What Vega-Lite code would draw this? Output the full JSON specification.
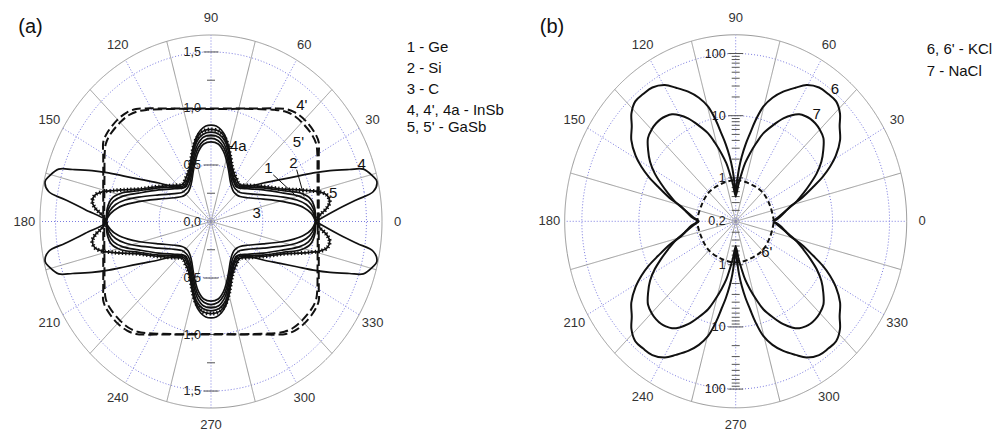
{
"$schema":"https://vega.github.io/schema/vega-lite/v6.json",
"padding":0,
"spacing":0,
"background":"white",
"config":{"view":{"stroke":null},"font":"Liberation Sans","concat":{"spacing":0}},
"datasets":{
"ringsA":[
{"r":0.5,"s":"dot","a":[0,10,20,30,40,50,60,70,80,90,100,110,120,130,140,150,160,170,180,190,200,210,220,230,240,250,260,270,280,290,300,310,320,330,340,350]},
{"r":1.0,"s":"dot","a":[0,10,20,30,40,50,60,70,80,90,100,110,120,130,140,150,160,170,180,190,200,210,220,230,240,250,260,270,280,290,300,310,320,330,340,350]},
{"r":1.5,"s":"dot","a":[0,10,20,30,40,50,60,70,80,90,100,110,120,130,140,150,160,170,180,190,200,210,220,230,240,250,260,270,280,290,300,310,320,330,340,350]},
{"r":1.65,"s":"out","a":[0,10,20,30,40,50,60,70,80,90,100,110,120,130,140,150,160,170,180,190,200,210,220,230,240,250,260,270,280,290,300,310,320,330,340,350]}],
"ringsB":[
{"v":1,"s":"dot","a":[0,10,20,30,40,50,60,70,80,90,100,110,120,130,140,150,160,170,180,190,200,210,220,230,240,250,260,270,280,290,300,310,320,330,340,350]},
{"v":10,"s":"dot","a":[0,10,20,30,40,50,60,70,80,90,100,110,120,130,140,150,160,170,180,190,200,210,220,230,240,250,260,270,280,290,300,310,320,330,340,350]},
{"v":100,"s":"dot","a":[0,10,20,30,40,50,60,70,80,90,100,110,120,130,140,150,160,170,180,190,200,210,220,230,240,250,260,270,280,290,300,310,320,330,340,350]},
{"v":200,"s":"out","a":[0,10,20,30,40,50,60,70,80,90,100,110,120,130,140,150,160,170,180,190,200,210,220,230,240,250,260,270,280,290,300,310,320,330,340,350]}],
"spokesA":[{"a":0,"d":"s","r":1.65},{"a":15,"d":"d","r":1.65},{"a":30,"d":"s","r":1.65},{"a":45,"d":"d","r":1.65},{"a":60,"d":"s","r":1.65},{"a":75,"d":"d","r":1.65},{"a":90,"d":"s","r":1.65},{"a":105,"d":"d","r":1.65},{"a":120,"d":"s","r":1.65},{"a":135,"d":"d","r":1.65},{"a":150,"d":"s","r":1.65},{"a":165,"d":"d","r":1.65},{"a":180,"d":"s","r":1.65},{"a":195,"d":"d","r":1.65},{"a":210,"d":"s","r":1.65},{"a":225,"d":"d","r":1.65},{"a":240,"d":"s","r":1.65},{"a":255,"d":"d","r":1.65},{"a":270,"d":"s","r":1.65},{"a":285,"d":"d","r":1.65},{"a":300,"d":"s","r":1.65},{"a":315,"d":"d","r":1.65},{"a":330,"d":"s","r":1.65},{"a":345,"d":"d","r":1.65}],
"spokesB":[{"a":0,"d":"s","v":200},{"a":15,"d":"d","v":200},{"a":30,"d":"s","v":200},{"a":45,"d":"d","v":200},{"a":60,"d":"s","v":200},{"a":75,"d":"d","v":200},{"a":90,"d":"s","v":200},{"a":105,"d":"d","v":200},{"a":120,"d":"s","v":200},{"a":135,"d":"d","v":200},{"a":150,"d":"s","v":200},{"a":165,"d":"d","v":200},{"a":180,"d":"s","v":200},{"a":195,"d":"d","v":200},{"a":210,"d":"s","v":200},{"a":225,"d":"d","v":200},{"a":240,"d":"s","v":200},{"a":255,"d":"d","v":200},{"a":270,"d":"s","v":200},{"a":285,"d":"d","v":200},{"a":300,"d":"s","v":200},{"a":315,"d":"d","v":200},{"a":330,"d":"s","v":200},{"a":345,"d":"d","v":200}],
"angA":[{"t":"0","a":0,"r":1.8},{"t":"30","a":30,"r":1.8},{"t":"60","a":60,"r":1.8},{"t":"90","a":90,"r":1.8},{"t":"120","a":120,"r":1.8},{"t":"150","a":150,"r":1.8},{"t":"180","a":180,"r":1.8},{"t":"210","a":210,"r":1.8},{"t":"240","a":240,"r":1.8},{"t":"270","a":270,"r":1.8},{"t":"300","a":300,"r":1.8},{"t":"330","a":330,"r":1.8}],
"angB":[{"t":"0","a":0,"v":372},{"t":"30","a":30,"v":372},{"t":"60","a":60,"v":372},{"t":"90","a":90,"v":372},{"t":"120","a":120,"v":372},{"t":"150","a":150,"v":372},{"t":"180","a":180,"v":372},{"t":"210","a":210,"v":372},{"t":"240","a":240,"v":372},{"t":"270","a":270,"v":372},{"t":"300","a":300,"v":372},{"t":"330","a":330,"v":372}],
"ticksA":[{"r":0.25,"a":90,"k":"m"},{"r":0.5,"a":90,"k":"M"},{"r":0.75,"a":90,"k":"m"},{"r":1.0,"a":90,"k":"M"},{"r":1.25,"a":90,"k":"m"},{"r":1.5,"a":90,"k":"M"},{"r":0.25,"a":270,"k":"m"},{"r":0.5,"a":270,"k":"M"},{"r":0.75,"a":270,"k":"m"},{"r":1.0,"a":270,"k":"M"},{"r":1.25,"a":270,"k":"m"},{"r":1.5,"a":270,"k":"M"}],
"ticksB":[{"v":0.3,"a":90,"k":"m"},{"v":0.4,"a":90,"k":"m"},{"v":0.5,"a":90,"k":"m"},{"v":0.6,"a":90,"k":"m"},{"v":0.7,"a":90,"k":"m"},{"v":0.8,"a":90,"k":"m"},{"v":0.9,"a":90,"k":"m"},{"v":1,"a":90,"k":"M"},{"v":2,"a":90,"k":"m"},{"v":3,"a":90,"k":"m"},{"v":4,"a":90,"k":"m"},{"v":5,"a":90,"k":"m"},{"v":6,"a":90,"k":"m"},{"v":7,"a":90,"k":"m"},{"v":8,"a":90,"k":"m"},{"v":9,"a":90,"k":"m"},{"v":10,"a":90,"k":"M"},{"v":20,"a":90,"k":"m"},{"v":30,"a":90,"k":"m"},{"v":40,"a":90,"k":"m"},{"v":50,"a":90,"k":"m"},{"v":60,"a":90,"k":"m"},{"v":70,"a":90,"k":"m"},{"v":80,"a":90,"k":"m"},{"v":90,"a":90,"k":"m"},{"v":100,"a":90,"k":"M"},
{"v":0.3,"a":270,"k":"m"},{"v":0.4,"a":270,"k":"m"},{"v":0.5,"a":270,"k":"m"},{"v":0.6,"a":270,"k":"m"},{"v":0.7,"a":270,"k":"m"},{"v":0.8,"a":270,"k":"m"},{"v":0.9,"a":270,"k":"m"},{"v":1,"a":270,"k":"M"},{"v":2,"a":270,"k":"m"},{"v":3,"a":270,"k":"m"},{"v":4,"a":270,"k":"m"},{"v":5,"a":270,"k":"m"},{"v":6,"a":270,"k":"m"},{"v":7,"a":270,"k":"m"},{"v":8,"a":270,"k":"m"},{"v":9,"a":270,"k":"m"},{"v":10,"a":270,"k":"M"},{"v":20,"a":270,"k":"m"},{"v":30,"a":270,"k":"m"},{"v":40,"a":270,"k":"m"},{"v":50,"a":270,"k":"m"},{"v":60,"a":270,"k":"m"},{"v":70,"a":270,"k":"m"},{"v":80,"a":270,"k":"m"},{"v":90,"a":270,"k":"m"},{"v":100,"a":270,"k":"M"}],
"radA":[{"t":"0,0","r":0,"a":90},{"t":"0,5","r":0.5,"a":90},{"t":"1,0","r":1.0,"a":90},{"t":"1,5","r":1.5,"a":90},{"t":"0,5","r":0.5,"a":270},{"t":"1,0","r":1.0,"a":270},{"t":"1,5","r":1.5,"a":270}],
"radB":[{"t":"0,2","v":0.2,"a":90},{"t":"1","v":1,"a":90},{"t":"10","v":10,"a":90},{"t":"100","v":100,"a":90},{"t":"1","v":1,"a":270},{"t":"10","v":10,"a":270},{"t":"100","v":100,"a":270}],
"curvesA":[
{"c":"4","a":0,"r":1.01},{"c":"4","a":4.9,"r":1.217},{"c":"4","a":7.8,"r":1.419},{"c":"4","a":9.6,"r":1.589},{"c":"4","a":12.5,"r":1.639},{"c":"4","a":14.5,"r":1.61},{"c":"4","a":17.5,"r":1.541},{"c":"4","a":19,"r":1.413},{"c":"4","a":21.4,"r":1.234},{"c":"4","a":23.5,"r":1.078},{"c":"4","a":25.8,"r":0.919},{"c":"4","a":29,"r":0.763},{"c":"4","a":34,"r":0.609},{"c":"4","a":40,"r":0.482},{"c":"4","a":46.6,"r":0.407},{"c":"4","a":52.3,"r":0.392},{"c":"4","a":57.3,"r":0.416},{"c":"4","a":62.9,"r":0.461},{"c":"4","a":67.4,"r":0.52},{"c":"4","a":71.3,"r":0.591},{"c":"4","a":75.6,"r":0.682},{"c":"4","a":79.4,"r":0.763},{"c":"4","a":83,"r":0.816},{"c":"4","a":86.6,"r":0.846},{"c":"4","a":90,"r":0.853},
{"c":"4","a":93.4,"r":0.846},{"c":"4","a":97,"r":0.816},{"c":"4","a":100.6,"r":0.763},{"c":"4","a":104.4,"r":0.682},{"c":"4","a":108.7,"r":0.591},{"c":"4","a":112.6,"r":0.52},{"c":"4","a":117.1,"r":0.461},{"c":"4","a":122.7,"r":0.416},{"c":"4","a":127.7,"r":0.392},{"c":"4","a":133.4,"r":0.407},{"c":"4","a":140,"r":0.482},{"c":"4","a":146,"r":0.609},{"c":"4","a":151,"r":0.763},{"c":"4","a":154.2,"r":0.919},{"c":"4","a":156.5,"r":1.078},{"c":"4","a":158.6,"r":1.234},{"c":"4","a":161,"r":1.413},{"c":"4","a":162.5,"r":1.541},{"c":"4","a":165.5,"r":1.61},{"c":"4","a":167.5,"r":1.639},{"c":"4","a":170.4,"r":1.589},{"c":"4","a":172.2,"r":1.419},{"c":"4","a":175.1,"r":1.217},{"c":"4","a":180,"r":1.01},
{"c":"4","a":184.9,"r":1.217},{"c":"4","a":187.8,"r":1.419},{"c":"4","a":189.6,"r":1.589},{"c":"4","a":192.5,"r":1.639},{"c":"4","a":194.5,"r":1.61},{"c":"4","a":197.5,"r":1.541},{"c":"4","a":199,"r":1.413},{"c":"4","a":201.4,"r":1.234},{"c":"4","a":203.5,"r":1.078},{"c":"4","a":205.8,"r":0.919},{"c":"4","a":209,"r":0.763},{"c":"4","a":214,"r":0.609},{"c":"4","a":220,"r":0.482},{"c":"4","a":226.6,"r":0.407},{"c":"4","a":232.3,"r":0.392},{"c":"4","a":237.3,"r":0.416},{"c":"4","a":242.9,"r":0.461},{"c":"4","a":247.4,"r":0.52},{"c":"4","a":251.3,"r":0.591},{"c":"4","a":255.6,"r":0.682},{"c":"4","a":259.4,"r":0.763},{"c":"4","a":263,"r":0.816},{"c":"4","a":266.6,"r":0.846},{"c":"4","a":270,"r":0.853},
{"c":"4","a":273.4,"r":0.846},{"c":"4","a":277,"r":0.816},{"c":"4","a":280.6,"r":0.763},{"c":"4","a":284.4,"r":0.682},{"c":"4","a":288.7,"r":0.591},{"c":"4","a":292.6,"r":0.52},{"c":"4","a":297.1,"r":0.461},{"c":"4","a":302.7,"r":0.416},{"c":"4","a":307.7,"r":0.392},{"c":"4","a":313.4,"r":0.407},{"c":"4","a":320,"r":0.482},{"c":"4","a":326,"r":0.609},{"c":"4","a":331,"r":0.763},{"c":"4","a":334.2,"r":0.919},{"c":"4","a":336.5,"r":1.078},{"c":"4","a":338.6,"r":1.234},{"c":"4","a":341,"r":1.413},{"c":"4","a":342.5,"r":1.541},{"c":"4","a":345.5,"r":1.61},{"c":"4","a":347.5,"r":1.639},{"c":"4","a":350.4,"r":1.589},{"c":"4","a":352.2,"r":1.419},{"c":"4","a":355.1,"r":1.217},{"c":"4","a":360,"r":1.01},

{"c":"5","a":0,"r":1.01},{"c":"5","a":3.2,"r":1.054},{"c":"5","a":6,"r":1.123},{"c":"5","a":8.8,"r":1.159},{"c":"5","a":11.9,"r":1.142},{"c":"5","a":14,"r":1.082},{"c":"5","a":15.9,"r":0.994},{"c":"5","a":18.2,"r":0.895},{"c":"5","a":22.3,"r":0.754},{"c":"5","a":31.5,"r":0.593},{"c":"5","a":42.4,"r":0.474},{"c":"5","a":49.3,"r":0.429},{"c":"5","a":53,"r":0.432},{"c":"5","a":57.2,"r":0.452},{"c":"5","a":61.8,"r":0.476},{"c":"5","a":66.9,"r":0.522},{"c":"5","a":71.3,"r":0.591},{"c":"5","a":75.3,"r":0.672},{"c":"5","a":79.1,"r":0.743},{"c":"5","a":83.9,"r":0.8},{"c":"5","a":90,"r":0.815},
{"c":"5","a":96.1,"r":0.8},{"c":"5","a":100.9,"r":0.743},{"c":"5","a":104.7,"r":0.672},{"c":"5","a":108.7,"r":0.591},{"c":"5","a":113.1,"r":0.522},{"c":"5","a":118.2,"r":0.476},{"c":"5","a":122.8,"r":0.452},{"c":"5","a":127,"r":0.432},{"c":"5","a":130.7,"r":0.429},{"c":"5","a":137.6,"r":0.474},{"c":"5","a":148.5,"r":0.593},{"c":"5","a":157.7,"r":0.754},{"c":"5","a":161.8,"r":0.895},{"c":"5","a":164.1,"r":0.994},{"c":"5","a":166,"r":1.082},{"c":"5","a":168.1,"r":1.142},{"c":"5","a":171.2,"r":1.159},{"c":"5","a":174,"r":1.123},{"c":"5","a":176.8,"r":1.054},{"c":"5","a":180,"r":1.01},
{"c":"5","a":183.2,"r":1.054},{"c":"5","a":186,"r":1.123},{"c":"5","a":188.8,"r":1.159},{"c":"5","a":191.9,"r":1.142},{"c":"5","a":194,"r":1.082},{"c":"5","a":195.9,"r":0.994},{"c":"5","a":198.2,"r":0.895},{"c":"5","a":202.3,"r":0.754},{"c":"5","a":211.5,"r":0.593},{"c":"5","a":222.4,"r":0.474},{"c":"5","a":229.3,"r":0.429},{"c":"5","a":233,"r":0.432},{"c":"5","a":237.2,"r":0.452},{"c":"5","a":241.8,"r":0.476},{"c":"5","a":246.9,"r":0.522},{"c":"5","a":251.3,"r":0.591},{"c":"5","a":255.3,"r":0.672},{"c":"5","a":259.1,"r":0.743},{"c":"5","a":263.9,"r":0.8},{"c":"5","a":270,"r":0.815},
{"c":"5","a":276.1,"r":0.8},{"c":"5","a":280.9,"r":0.743},{"c":"5","a":284.7,"r":0.672},{"c":"5","a":288.7,"r":0.591},{"c":"5","a":293.1,"r":0.522},{"c":"5","a":298.2,"r":0.476},{"c":"5","a":302.8,"r":0.452},{"c":"5","a":307,"r":0.432},{"c":"5","a":310.7,"r":0.429},{"c":"5","a":317.6,"r":0.474},{"c":"5","a":328.5,"r":0.593},{"c":"5","a":337.7,"r":0.754},{"c":"5","a":341.8,"r":0.895},{"c":"5","a":344.1,"r":0.994},{"c":"5","a":346,"r":1.082},{"c":"5","a":348.1,"r":1.142},{"c":"5","a":351.2,"r":1.159},{"c":"5","a":354,"r":1.123},{"c":"5","a":356.8,"r":1.054},{"c":"5","a":360,"r":1.01},

{"c":"4a","a":0,"r":1.01},{"c":"4a","a":6.8,"r":1.007},{"c":"4a","a":11.8,"r":0.981},{"c":"4a","a":16,"r":0.905},{"c":"4a","a":21.3,"r":0.749},{"c":"4a","a":30.5,"r":0.586},{"c":"4a","a":41.1,"r":0.464},{"c":"4a","a":47.9,"r":0.418},{"c":"4a","a":52.9,"r":0.414},{"c":"4a","a":56.9,"r":0.43},{"c":"4a","a":61.7,"r":0.454},{"c":"4a","a":66.5,"r":0.502},{"c":"4a","a":71.1,"r":0.571},{"c":"4a","a":75.3,"r":0.651},{"c":"4a","a":79.2,"r":0.723},{"c":"4a","a":84.1,"r":0.774},{"c":"4a","a":90,"r":0.79},
{"c":"4a","a":95.9,"r":0.774},{"c":"4a","a":100.8,"r":0.723},{"c":"4a","a":104.7,"r":0.651},{"c":"4a","a":108.9,"r":0.571},{"c":"4a","a":113.5,"r":0.502},{"c":"4a","a":118.3,"r":0.454},{"c":"4a","a":123.1,"r":0.43},{"c":"4a","a":127.1,"r":0.414},{"c":"4a","a":132.1,"r":0.418},{"c":"4a","a":138.9,"r":0.464},{"c":"4a","a":149.5,"r":0.586},{"c":"4a","a":158.7,"r":0.749},{"c":"4a","a":164,"r":0.905},{"c":"4a","a":168.2,"r":0.981},{"c":"4a","a":173.2,"r":1.007},{"c":"4a","a":180,"r":1.01},
{"c":"4a","a":186.8,"r":1.007},{"c":"4a","a":191.8,"r":0.981},{"c":"4a","a":196,"r":0.905},{"c":"4a","a":201.3,"r":0.749},{"c":"4a","a":210.5,"r":0.586},{"c":"4a","a":221.1,"r":0.464},{"c":"4a","a":227.9,"r":0.418},{"c":"4a","a":232.9,"r":0.414},{"c":"4a","a":236.9,"r":0.43},{"c":"4a","a":241.7,"r":0.454},{"c":"4a","a":246.5,"r":0.502},{"c":"4a","a":251.1,"r":0.571},{"c":"4a","a":255.3,"r":0.651},{"c":"4a","a":259.2,"r":0.723},{"c":"4a","a":264.1,"r":0.774},{"c":"4a","a":270,"r":0.79},
{"c":"4a","a":275.9,"r":0.774},{"c":"4a","a":280.8,"r":0.723},{"c":"4a","a":284.7,"r":0.651},{"c":"4a","a":288.9,"r":0.571},{"c":"4a","a":293.5,"r":0.502},{"c":"4a","a":298.3,"r":0.454},{"c":"4a","a":303.1,"r":0.43},{"c":"4a","a":307.1,"r":0.414},{"c":"4a","a":312.1,"r":0.418},{"c":"4a","a":318.9,"r":0.464},{"c":"4a","a":329.5,"r":0.586},{"c":"4a","a":338.7,"r":0.749},{"c":"4a","a":344,"r":0.905},{"c":"4a","a":348.2,"r":0.981},{"c":"4a","a":353.2,"r":1.007},{"c":"4a","a":360,"r":1.01},

{"c":"1","a":0,"r":1.01},{"c":"1","a":6.3,"r":0.996},{"c":"1","a":10.8,"r":0.957},{"c":"1","a":14.8,"r":0.879},{"c":"1","a":19.8,"r":0.742},{"c":"1","a":29,"r":0.577},{"c":"1","a":39.6,"r":0.455},{"c":"1","a":46.6,"r":0.407},{"c":"1","a":51.1,"r":0.398},{"c":"1","a":55.5,"r":0.406},{"c":"1","a":60.4,"r":0.425},{"c":"1","a":65.6,"r":0.472},{"c":"1","a":70.6,"r":0.541},{"c":"1","a":75.1,"r":0.621},{"c":"1","a":79.2,"r":0.692},{"c":"1","a":84.3,"r":0.749},{"c":"1","a":90,"r":0.765},
{"c":"1","a":95.7,"r":0.749},{"c":"1","a":100.8,"r":0.692},{"c":"1","a":104.9,"r":0.621},{"c":"1","a":109.4,"r":0.541},{"c":"1","a":114.4,"r":0.472},{"c":"1","a":119.6,"r":0.425},{"c":"1","a":124.5,"r":0.406},{"c":"1","a":128.9,"r":0.398},{"c":"1","a":133.4,"r":0.407},{"c":"1","a":140.4,"r":0.455},{"c":"1","a":151,"r":0.577},{"c":"1","a":160.2,"r":0.742},{"c":"1","a":165.2,"r":0.879},{"c":"1","a":169.2,"r":0.957},{"c":"1","a":173.7,"r":0.996},{"c":"1","a":180,"r":1.01},
{"c":"1","a":186.3,"r":0.996},{"c":"1","a":190.8,"r":0.957},{"c":"1","a":194.8,"r":0.879},{"c":"1","a":199.8,"r":0.742},{"c":"1","a":209,"r":0.577},{"c":"1","a":219.6,"r":0.455},{"c":"1","a":226.6,"r":0.407},{"c":"1","a":231.1,"r":0.398},{"c":"1","a":235.5,"r":0.406},{"c":"1","a":240.4,"r":0.425},{"c":"1","a":245.6,"r":0.472},{"c":"1","a":250.6,"r":0.541},{"c":"1","a":255.1,"r":0.621},{"c":"1","a":259.2,"r":0.692},{"c":"1","a":264.3,"r":0.749},{"c":"1","a":270,"r":0.765},
{"c":"1","a":275.7,"r":0.749},{"c":"1","a":280.8,"r":0.692},{"c":"1","a":284.9,"r":0.621},{"c":"1","a":289.4,"r":0.541},{"c":"1","a":294.4,"r":0.472},{"c":"1","a":299.6,"r":0.425},{"c":"1","a":304.5,"r":0.406},{"c":"1","a":308.9,"r":0.398},{"c":"1","a":313.4,"r":0.407},{"c":"1","a":320.4,"r":0.455},{"c":"1","a":331,"r":0.577},{"c":"1","a":340.2,"r":0.742},{"c":"1","a":345.2,"r":0.879},{"c":"1","a":349.2,"r":0.957},{"c":"1","a":353.7,"r":0.996},{"c":"1","a":360,"r":1.01},

{"c":"2","a":0,"r":1.01},{"c":"2","a":5.2,"r":0.984},{"c":"2","a":9.3,"r":0.932},{"c":"2","a":12.9,"r":0.851},{"c":"2","a":17.2,"r":0.731},{"c":"2","a":25,"r":0.557},{"c":"2","a":35.2,"r":0.428},{"c":"2","a":42.5,"r":0.38},{"c":"2","a":47.7,"r":0.372},{"c":"2","a":53.1,"r":0.375},{"c":"2","a":58.9,"r":0.397},{"c":"2","a":64.6,"r":0.443},{"c":"2","a":70,"r":0.511},{"c":"2","a":74.8,"r":0.591},{"c":"2","a":79.1,"r":0.662},{"c":"2","a":84.4,"r":0.718},{"c":"2","a":90,"r":0.735},
{"c":"2","a":95.6,"r":0.718},{"c":"2","a":100.9,"r":0.662},{"c":"2","a":105.2,"r":0.591},{"c":"2","a":110,"r":0.511},{"c":"2","a":115.4,"r":0.443},{"c":"2","a":121.1,"r":0.397},{"c":"2","a":126.9,"r":0.375},{"c":"2","a":132.3,"r":0.372},{"c":"2","a":137.5,"r":0.38},{"c":"2","a":144.8,"r":0.428},{"c":"2","a":155,"r":0.557},{"c":"2","a":162.8,"r":0.731},{"c":"2","a":167.1,"r":0.851},{"c":"2","a":170.7,"r":0.932},{"c":"2","a":174.8,"r":0.984},{"c":"2","a":180,"r":1.01},
{"c":"2","a":185.2,"r":0.984},{"c":"2","a":189.3,"r":0.932},{"c":"2","a":192.9,"r":0.851},{"c":"2","a":197.2,"r":0.731},{"c":"2","a":205,"r":0.557},{"c":"2","a":215.2,"r":0.428},{"c":"2","a":222.5,"r":0.38},{"c":"2","a":227.7,"r":0.372},{"c":"2","a":233.1,"r":0.375},{"c":"2","a":238.9,"r":0.397},{"c":"2","a":244.6,"r":0.443},{"c":"2","a":250,"r":0.511},{"c":"2","a":254.8,"r":0.591},{"c":"2","a":259.1,"r":0.662},{"c":"2","a":264.4,"r":0.718},{"c":"2","a":270,"r":0.735},
{"c":"2","a":275.6,"r":0.718},{"c":"2","a":280.9,"r":0.662},{"c":"2","a":285.2,"r":0.591},{"c":"2","a":290,"r":0.511},{"c":"2","a":295.4,"r":0.443},{"c":"2","a":301.1,"r":0.397},{"c":"2","a":306.9,"r":0.375},{"c":"2","a":312.3,"r":0.372},{"c":"2","a":317.5,"r":0.38},{"c":"2","a":324.8,"r":0.428},{"c":"2","a":335,"r":0.557},{"c":"2","a":342.8,"r":0.731},{"c":"2","a":347.1,"r":0.851},{"c":"2","a":350.7,"r":0.932},{"c":"2","a":354.8,"r":0.984},{"c":"2","a":360,"r":1.01},

{"c":"3","a":0,"r":1.01},{"c":"3","a":4.1,"r":0.973},{"c":"3","a":7.6,"r":0.908},{"c":"3","a":11,"r":0.815},{"c":"3","a":14.2,"r":0.72},{"c":"3","a":21.4,"r":0.542},{"c":"3","a":31,"r":0.408},{"c":"3","a":38.3,"r":0.357},{"c":"3","a":43.2,"r":0.343},{"c":"3","a":49.8,"r":0.341},{"c":"3","a":56.3,"r":0.361},{"c":"3","a":62.8,"r":0.405},{"c":"3","a":69.3,"r":0.481},{"c":"3","a":74.5,"r":0.56},{"c":"3","a":79,"r":0.632},{"c":"3","a":84.2,"r":0.689},{"c":"3","a":90,"r":0.705},
{"c":"3","a":95.8,"r":0.689},{"c":"3","a":101,"r":0.632},{"c":"3","a":105.5,"r":0.56},{"c":"3","a":110.7,"r":0.481},{"c":"3","a":117.2,"r":0.405},{"c":"3","a":123.7,"r":0.361},{"c":"3","a":130.2,"r":0.341},{"c":"3","a":136.8,"r":0.343},{"c":"3","a":141.7,"r":0.357},{"c":"3","a":149,"r":0.408},{"c":"3","a":158.6,"r":0.542},{"c":"3","a":165.8,"r":0.72},{"c":"3","a":169,"r":0.815},{"c":"3","a":172.4,"r":0.908},{"c":"3","a":175.9,"r":0.973},{"c":"3","a":180,"r":1.01},
{"c":"3","a":184.1,"r":0.973},{"c":"3","a":187.6,"r":0.908},{"c":"3","a":191,"r":0.815},{"c":"3","a":194.2,"r":0.72},{"c":"3","a":201.4,"r":0.542},{"c":"3","a":211,"r":0.408},{"c":"3","a":218.3,"r":0.357},{"c":"3","a":223.2,"r":0.343},{"c":"3","a":229.8,"r":0.341},{"c":"3","a":236.3,"r":0.361},{"c":"3","a":242.8,"r":0.405},{"c":"3","a":249.3,"r":0.481},{"c":"3","a":254.5,"r":0.56},{"c":"3","a":259,"r":0.632},{"c":"3","a":264.2,"r":0.689},{"c":"3","a":270,"r":0.705},
{"c":"3","a":275.8,"r":0.689},{"c":"3","a":281,"r":0.632},{"c":"3","a":285.5,"r":0.56},{"c":"3","a":290.7,"r":0.481},{"c":"3","a":297.2,"r":0.405},{"c":"3","a":303.7,"r":0.361},{"c":"3","a":310.2,"r":0.341},{"c":"3","a":316.8,"r":0.343},{"c":"3","a":321.7,"r":0.357},{"c":"3","a":329,"r":0.408},{"c":"3","a":338.6,"r":0.542},{"c":"3","a":345.8,"r":0.72},{"c":"3","a":349,"r":0.815},{"c":"3","a":352.4,"r":0.908},{"c":"3","a":355.9,"r":0.973},{"c":"3","a":360,"r":1.01},

{"c":"4'","a":0,"r":1.04},{"c":"4'","a":8,"r":1.05},{"c":"4'","a":16,"r":1.082},{"c":"4'","a":24,"r":1.138},{"c":"4'","a":30,"r":1.201},{"c":"4'","a":34,"r":1.254},{"c":"4'","a":38,"r":1.272},{"c":"4'","a":45,"r":1.275},{"c":"4'","a":50,"r":1.26},{"c":"4'","a":54,"r":1.23},{"c":"4'","a":58,"r":1.18},{"c":"4'","a":64,"r":1.113},{"c":"4'","a":72,"r":1.052},{"c":"4'","a":81,"r":1.012},{"c":"4'","a":90,"r":1.0},
{"c":"4'","a":99,"r":1.012},{"c":"4'","a":108,"r":1.052},{"c":"4'","a":116,"r":1.113},{"c":"4'","a":122,"r":1.18},{"c":"4'","a":126,"r":1.23},{"c":"4'","a":130,"r":1.26},{"c":"4'","a":135,"r":1.275},{"c":"4'","a":142,"r":1.272},{"c":"4'","a":146,"r":1.254},{"c":"4'","a":150,"r":1.201},{"c":"4'","a":156,"r":1.138},{"c":"4'","a":164,"r":1.082},{"c":"4'","a":172,"r":1.05},{"c":"4'","a":180,"r":1.04},
{"c":"4'","a":188,"r":1.05},{"c":"4'","a":196,"r":1.082},{"c":"4'","a":204,"r":1.138},{"c":"4'","a":210,"r":1.201},{"c":"4'","a":214,"r":1.254},{"c":"4'","a":218,"r":1.272},{"c":"4'","a":225,"r":1.275},{"c":"4'","a":230,"r":1.26},{"c":"4'","a":234,"r":1.23},{"c":"4'","a":238,"r":1.18},{"c":"4'","a":244,"r":1.113},{"c":"4'","a":252,"r":1.052},{"c":"4'","a":261,"r":1.012},{"c":"4'","a":270,"r":1.0},
{"c":"4'","a":279,"r":1.012},{"c":"4'","a":288,"r":1.052},{"c":"4'","a":296,"r":1.113},{"c":"4'","a":302,"r":1.18},{"c":"4'","a":306,"r":1.23},{"c":"4'","a":310,"r":1.26},{"c":"4'","a":315,"r":1.275},{"c":"4'","a":322,"r":1.272},{"c":"4'","a":326,"r":1.254},{"c":"4'","a":330,"r":1.201},{"c":"4'","a":336,"r":1.138},{"c":"4'","a":344,"r":1.082},{"c":"4'","a":352,"r":1.05},{"c":"4'","a":360,"r":1.04},

{"c":"5'","a":0,"r":1.03},{"c":"5'","a":8,"r":1.04},{"c":"5'","a":16,"r":1.07},{"c":"5'","a":24,"r":1.125},{"c":"5'","a":30,"r":1.185},{"c":"5'","a":34,"r":1.225},{"c":"5'","a":38,"r":1.24},{"c":"5'","a":45,"r":1.24},{"c":"5'","a":50,"r":1.23},{"c":"5'","a":54,"r":1.205},{"c":"5'","a":58,"r":1.165},{"c":"5'","a":64,"r":1.105},{"c":"5'","a":72,"r":1.048},{"c":"5'","a":81,"r":1.008},{"c":"5'","a":90,"r":0.995},
{"c":"5'","a":99,"r":1.008},{"c":"5'","a":108,"r":1.048},{"c":"5'","a":116,"r":1.105},{"c":"5'","a":122,"r":1.165},{"c":"5'","a":126,"r":1.205},{"c":"5'","a":130,"r":1.23},{"c":"5'","a":135,"r":1.24},{"c":"5'","a":142,"r":1.24},{"c":"5'","a":146,"r":1.225},{"c":"5'","a":150,"r":1.185},{"c":"5'","a":156,"r":1.125},{"c":"5'","a":164,"r":1.07},{"c":"5'","a":172,"r":1.04},{"c":"5'","a":180,"r":1.03},
{"c":"5'","a":188,"r":1.04},{"c":"5'","a":196,"r":1.07},{"c":"5'","a":204,"r":1.125},{"c":"5'","a":210,"r":1.185},{"c":"5'","a":214,"r":1.225},{"c":"5'","a":218,"r":1.24},{"c":"5'","a":225,"r":1.24},{"c":"5'","a":230,"r":1.23},{"c":"5'","a":234,"r":1.205},{"c":"5'","a":238,"r":1.165},{"c":"5'","a":244,"r":1.105},{"c":"5'","a":252,"r":1.048},{"c":"5'","a":261,"r":1.008},{"c":"5'","a":270,"r":0.995},
{"c":"5'","a":279,"r":1.008},{"c":"5'","a":288,"r":1.048},{"c":"5'","a":296,"r":1.105},{"c":"5'","a":302,"r":1.165},{"c":"5'","a":306,"r":1.205},{"c":"5'","a":310,"r":1.23},{"c":"5'","a":315,"r":1.24},{"c":"5'","a":322,"r":1.24},{"c":"5'","a":326,"r":1.225},{"c":"5'","a":330,"r":1.185},{"c":"5'","a":336,"r":1.125},{"c":"5'","a":344,"r":1.07},{"c":"5'","a":352,"r":1.04},{"c":"5'","a":360,"r":1.03}
],
"curvesB":[
{"c":"6","a":0,"v":0.94},{"c":"6","a":5,"v":1.2},{"c":"6","a":10,"v":1.52},{"c":"6","a":13.9,"v":1.91},{"c":"6","a":18,"v":3.32},{"c":"6","a":22.2,"v":5.9},{"c":"6","a":25,"v":9.57},{"c":"6","a":27.9,"v":14.9},{"c":"6","a":31,"v":22.4},{"c":"6","a":35.5,"v":35.5},{"c":"6","a":40,"v":48},{"c":"6","a":43.5,"v":66.5},{"c":"6","a":47.6,"v":82},{"c":"6","a":51.6,"v":82},{"c":"6","a":55.8,"v":80},{"c":"6","a":60.4,"v":66.2},{"c":"6","a":64,"v":49.1},{"c":"6","a":68.2,"v":35.2},{"c":"6","a":72,"v":24.6},{"c":"6","a":75.3,"v":16.1},{"c":"6","a":78,"v":8.93},{"c":"6","a":79.9,"v":5.47},{"c":"6","a":82,"v":3.56},{"c":"6","a":84.2,"v":2.21},{"c":"6","a":86,"v":1.45},{"c":"6","a":87.6,"v":0.925},{"c":"6","a":89,"v":0.63},{"c":"6","a":90,"v":0.5},
{"c":"6","a":91,"v":0.63},{"c":"6","a":92.4,"v":0.925},{"c":"6","a":94,"v":1.45},{"c":"6","a":95.8,"v":2.21},{"c":"6","a":98,"v":3.56},{"c":"6","a":100.1,"v":5.47},{"c":"6","a":102,"v":8.93},{"c":"6","a":104.7,"v":16.1},{"c":"6","a":108,"v":24.6},{"c":"6","a":111.8,"v":35.2},{"c":"6","a":116,"v":49.1},{"c":"6","a":119.6,"v":66.2},{"c":"6","a":124.2,"v":80},{"c":"6","a":128.4,"v":82},{"c":"6","a":132.4,"v":82},{"c":"6","a":136.5,"v":66.5},{"c":"6","a":140,"v":48},{"c":"6","a":144.5,"v":35.5},{"c":"6","a":149,"v":22.4},{"c":"6","a":152.1,"v":14.9},{"c":"6","a":155,"v":9.57},{"c":"6","a":157.8,"v":5.9},{"c":"6","a":162,"v":3.32},{"c":"6","a":166.1,"v":1.91},{"c":"6","a":170,"v":1.52},{"c":"6","a":175,"v":1.2},{"c":"6","a":180,"v":0.94},
{"c":"6","a":185,"v":1.2},{"c":"6","a":190,"v":1.52},{"c":"6","a":193.9,"v":1.91},{"c":"6","a":198,"v":3.32},{"c":"6","a":202.2,"v":5.9},{"c":"6","a":205,"v":9.57},{"c":"6","a":207.9,"v":14.9},{"c":"6","a":211,"v":22.4},{"c":"6","a":215.5,"v":35.5},{"c":"6","a":220,"v":48},{"c":"6","a":223.5,"v":66.5},{"c":"6","a":227.6,"v":82},{"c":"6","a":231.6,"v":82},{"c":"6","a":235.8,"v":80},{"c":"6","a":240.4,"v":66.2},{"c":"6","a":244,"v":49.1},{"c":"6","a":248.2,"v":35.2},{"c":"6","a":252,"v":24.6},{"c":"6","a":255.3,"v":16.1},{"c":"6","a":258,"v":8.93},{"c":"6","a":259.9,"v":5.47},{"c":"6","a":262,"v":3.56},{"c":"6","a":264.2,"v":2.21},{"c":"6","a":266,"v":1.45},{"c":"6","a":267.6,"v":0.925},{"c":"6","a":269,"v":0.63},{"c":"6","a":270,"v":0.5},
{"c":"6","a":271,"v":0.63},{"c":"6","a":272.4,"v":0.925},{"c":"6","a":274,"v":1.45},{"c":"6","a":275.8,"v":2.21},{"c":"6","a":278,"v":3.56},{"c":"6","a":280.1,"v":5.47},{"c":"6","a":282,"v":8.93},{"c":"6","a":284.7,"v":16.1},{"c":"6","a":288,"v":24.6},{"c":"6","a":291.8,"v":35.2},{"c":"6","a":296,"v":49.1},{"c":"6","a":299.6,"v":66.2},{"c":"6","a":304.2,"v":80},{"c":"6","a":308.4,"v":82},{"c":"6","a":312.4,"v":82},{"c":"6","a":316.5,"v":66.5},{"c":"6","a":320,"v":48},{"c":"6","a":324.5,"v":35.5},{"c":"6","a":329,"v":22.4},{"c":"6","a":332.1,"v":14.9},{"c":"6","a":335,"v":9.57},{"c":"6","a":337.8,"v":5.9},{"c":"6","a":342,"v":3.32},{"c":"6","a":346.1,"v":1.91},{"c":"6","a":350,"v":1.52},{"c":"6","a":355,"v":1.2},{"c":"6","a":360,"v":0.94},

{"c":"7","a":0,"v":0.89},{"c":"7","a":5,"v":1.12},{"c":"7","a":11.5,"v":1.64},{"c":"7","a":16,"v":2.46},{"c":"7","a":20.8,"v":3.71},{"c":"7","a":25,"v":5.64},{"c":"7","a":28.5,"v":8.28},{"c":"7","a":32.5,"v":12.1},{"c":"7","a":36.7,"v":16.5},{"c":"7","a":41,"v":21.9},{"c":"7","a":45.2,"v":24.5},{"c":"7","a":48.5,"v":25.5},{"c":"7","a":51.5,"v":25.5},{"c":"7","a":54,"v":24.5},{"c":"7","a":57,"v":22.5},{"c":"7","a":60,"v":18.7},{"c":"7","a":63.2,"v":14.3},{"c":"7","a":67,"v":9.57},{"c":"7","a":71.1,"v":6.25},{"c":"7","a":74,"v":4.08},{"c":"7","a":77.1,"v":2.64},{"c":"7","a":80,"v":1.78},{"c":"7","a":82.3,"v":1.2},{"c":"7","a":85,"v":0.83},{"c":"7","a":86.8,"v":0.64},{"c":"7","a":88.5,"v":0.55},{"c":"7","a":90,"v":0.53},
{"c":"7","a":91.5,"v":0.55},{"c":"7","a":93.2,"v":0.64},{"c":"7","a":95,"v":0.83},{"c":"7","a":97.7,"v":1.2},{"c":"7","a":100,"v":1.78},{"c":"7","a":102.9,"v":2.64},{"c":"7","a":106,"v":4.08},{"c":"7","a":108.9,"v":6.25},{"c":"7","a":113,"v":9.57},{"c":"7","a":116.8,"v":14.3},{"c":"7","a":120,"v":18.7},{"c":"7","a":123,"v":22.5},{"c":"7","a":126,"v":24.5},{"c":"7","a":128.5,"v":25.5},{"c":"7","a":131.5,"v":25.5},{"c":"7","a":134.8,"v":24.5},{"c":"7","a":139,"v":21.9},{"c":"7","a":143.3,"v":16.5},{"c":"7","a":147.5,"v":12.1},{"c":"7","a":151.5,"v":8.28},{"c":"7","a":155,"v":5.64},{"c":"7","a":159.2,"v":3.71},{"c":"7","a":164,"v":2.46},{"c":"7","a":168.5,"v":1.64},{"c":"7","a":175,"v":1.12},{"c":"7","a":180,"v":0.89},
{"c":"7","a":185,"v":1.12},{"c":"7","a":191.5,"v":1.64},{"c":"7","a":196,"v":2.46},{"c":"7","a":200.8,"v":3.71},{"c":"7","a":205,"v":5.64},{"c":"7","a":208.5,"v":8.28},{"c":"7","a":212.5,"v":12.1},{"c":"7","a":216.7,"v":16.5},{"c":"7","a":221,"v":21.9},{"c":"7","a":225.2,"v":24.5},{"c":"7","a":228.5,"v":25.5},{"c":"7","a":231.5,"v":25.5},{"c":"7","a":234,"v":24.5},{"c":"7","a":237,"v":22.5},{"c":"7","a":240,"v":18.7},{"c":"7","a":243.2,"v":14.3},{"c":"7","a":247,"v":9.57},{"c":"7","a":251.1,"v":6.25},{"c":"7","a":254,"v":4.08},{"c":"7","a":257.1,"v":2.64},{"c":"7","a":260,"v":1.78},{"c":"7","a":262.3,"v":1.2},{"c":"7","a":265,"v":0.83},{"c":"7","a":266.8,"v":0.64},{"c":"7","a":268.5,"v":0.55},{"c":"7","a":270,"v":0.53},
{"c":"7","a":271.5,"v":0.55},{"c":"7","a":273.2,"v":0.64},{"c":"7","a":275,"v":0.83},{"c":"7","a":277.7,"v":1.2},{"c":"7","a":280,"v":1.78},{"c":"7","a":282.9,"v":2.64},{"c":"7","a":286,"v":4.08},{"c":"7","a":288.9,"v":6.25},{"c":"7","a":293,"v":9.57},{"c":"7","a":296.8,"v":14.3},{"c":"7","a":300,"v":18.7},{"c":"7","a":303,"v":22.5},{"c":"7","a":306,"v":24.5},{"c":"7","a":308.5,"v":25.5},{"c":"7","a":311.5,"v":25.5},{"c":"7","a":314.8,"v":24.5},{"c":"7","a":319,"v":21.9},{"c":"7","a":323.3,"v":16.5},{"c":"7","a":327.5,"v":12.1},{"c":"7","a":331.5,"v":8.28},{"c":"7","a":335,"v":5.64},{"c":"7","a":339.2,"v":3.71},{"c":"7","a":344,"v":2.46},{"c":"7","a":348.5,"v":1.64},{"c":"7","a":355,"v":1.12},{"c":"7","a":360,"v":0.89},

{"c":"6'","a":0,"v":0.94},{"c":"6'","a":22.5,"v":0.9},{"c":"6'","a":45,"v":0.92},{"c":"6'","a":67.5,"v":0.9},{"c":"6'","a":90,"v":0.92},{"c":"6'","a":112.5,"v":0.9},{"c":"6'","a":135,"v":0.92},{"c":"6'","a":157.5,"v":0.9},{"c":"6'","a":180,"v":0.94},{"c":"6'","a":202.5,"v":0.9},{"c":"6'","a":225,"v":0.92},{"c":"6'","a":247.5,"v":0.9},{"c":"6'","a":270,"v":0.92},{"c":"6'","a":292.5,"v":0.9},{"c":"6'","a":315,"v":0.92},{"c":"6'","a":337.5,"v":0.9},{"c":"6'","a":360,"v":0.94}
]
},
"hconcat":[
{
"width":520,"height":433,
"encoding":{
"x":{"field":"X","type":"quantitative","scale":{"domain":[-2.036,2.9816],"nice":false,"zero":false},"axis":null},
"y":{"field":"Y","type":"quantitative","scale":{"domain":[-1.8712,1.9597],"nice":false,"zero":false},"axis":null}
},
"layer":[
{"data":{"name":"ringsA"},
 "transform":[{"flatten":["a"]},{"calculate":"datum.r*cos(datum.a*PI/180)","as":"X"},{"calculate":"datum.r*sin(datum.a*PI/180)","as":"Y"}],
 "mark":{"type":"line","interpolate":"cardinal-closed","strokeWidth":1},
 "encoding":{"detail":{"field":"r","type":"nominal"},"order":{"field":"a","type":"quantitative"},
  "stroke":{"field":"s","type":"nominal","scale":{"domain":["dot","out"],"range":["#7b7be0","#9a9a9a"]},"legend":null},
  "strokeDash":{"field":"s","type":"nominal","scale":{"domain":["dot","out"],"range":[[1,2],[1,0]]},"legend":null}}},
{"data":{"name":"spokesA"},
 "transform":[{"calculate":"0","as":"X"},{"calculate":"0","as":"Y"},{"calculate":"datum.r*cos(datum.a*PI/180)","as":"X2"},{"calculate":"datum.r*sin(datum.a*PI/180)","as":"Y2"}],
 "mark":{"type":"rule","strokeWidth":1},
 "encoding":{"x2":{"field":"X2"},"y2":{"field":"Y2"},
  "stroke":{"field":"d","type":"nominal","scale":{"domain":["s","d"],"range":["#a3a3a3","#c9c9c9"]},"legend":null},
  "strokeDash":{"field":"d","type":"nominal","scale":{"domain":["s","d"],"range":[[1,0],[4,3]]},"legend":null}}},
{"data":{"name":"ticksA"},
 "transform":[{"calculate":"datum.r*cos(datum.a*PI/180)","as":"X"},{"calculate":"datum.r*sin(datum.a*PI/180)","as":"Y"}],
 "mark":{"type":"point","shape":"stroke","stroke":"#555","strokeWidth":1,"opacity":1},
 "encoding":{"size":{"field":"k","type":"nominal","scale":{"domain":["M","m"],"range":[225,64]},"legend":null}}},
{"data":{"name":"radA"},
 "transform":[{"calculate":"datum.r*cos(datum.a*PI/180)","as":"X"},{"calculate":"datum.r*sin(datum.a*PI/180)","as":"Y"}],
 "mark":{"type":"text","align":"right","baseline":"middle","dx":-10,"fontSize":12.5,"color":"#222"},
 "encoding":{"text":{"field":"t"}}},
{"data":{"name":"angA"},
 "transform":[{"calculate":"datum.r*cos(datum.a*PI/180)","as":"X"},{"calculate":"datum.r*sin(datum.a*PI/180)","as":"Y"}],
 "mark":{"type":"text","align":"center","baseline":"middle","fontSize":13,"color":"#333"},
 "encoding":{"text":{"field":"t"}}},
{"data":{"name":"curvesA"},
 "transform":[{"filter":"datum.c=='4\\''||datum.c=='5\\''"},{"calculate":"datum.r*cos(datum.a*PI/180)","as":"X"},{"calculate":"datum.r*sin(datum.a*PI/180)","as":"Y"}],
 "mark":{"type":"line","interpolate":"catmull-rom","stroke":"#111","strokeWidth":2,"strokeDash":[9,4]},
 "encoding":{"detail":{"field":"c","type":"nominal"},"order":{"field":"a","type":"quantitative"}}},
{"data":{"name":"curvesA"},
 "transform":[{"filter":"datum.c=='5'"},{"calculate":"datum.r*cos(datum.a*PI/180)","as":"X"},{"calculate":"datum.r*sin(datum.a*PI/180)","as":"Y"}],
 "mark":{"type":"line","interpolate":"catmull-rom","stroke":"#111","strokeWidth":4,"strokeDash":[1.3,2.2],"strokeCap":"butt"},
 "encoding":{"detail":{"field":"c","type":"nominal"},"order":{"field":"a","type":"quantitative"}}},
{"data":{"name":"curvesA"},
 "transform":[{"filter":"datum.c=='4'||datum.c=='4a'||datum.c=='1'||datum.c=='2'||datum.c=='3'||datum.c=='5'"},{"calculate":"datum.r*cos(datum.a*PI/180)","as":"X"},{"calculate":"datum.r*sin(datum.a*PI/180)","as":"Y"}],
 "mark":{"type":"line","interpolate":"catmull-rom","stroke":"#111","strokeWidth":1.7},
 "encoding":{"detail":{"field":"c","type":"nominal"},"order":{"field":"a","type":"quantitative"}}},
{"data":{"values":[{"a":34.5,"r":0.729,"a2":15.0,"r2":0.856},{"a":29.0,"r":0.945,"a2":13.8,"r2":0.925},{"a":72.3,"r":0.697,"a2":77.6,"r2":0.677}]},
 "transform":[{"calculate":"datum.r*cos(datum.a*PI/180)","as":"X"},{"calculate":"datum.r*sin(datum.a*PI/180)","as":"Y"},{"calculate":"datum.r2*cos(datum.a2*PI/180)","as":"X2"},{"calculate":"datum.r2*sin(datum.a2*PI/180)","as":"Y2"}],
 "mark":{"type":"rule","stroke":"#111","strokeWidth":1},
 "encoding":{"x2":{"field":"X2"},"y2":{"field":"Y2"}}},
{"data":{"values":[{"t":"4'","a":49.7,"r":1.354},{"t":"4a","a":68.5,"r":0.72},{"t":"5'","a":40.0,"r":1.101},{"t":"1","a":40.5,"r":0.728},{"t":"2","a":33.1,"r":0.948},{"t":"4","a":19.4,"r":1.542},{"t":"5","a":12.0,"r":1.206},{"t":"3","a":9.5,"r":0.447}]},
 "transform":[{"calculate":"datum.r*cos(datum.a*PI/180)","as":"X"},{"calculate":"datum.r*sin(datum.a*PI/180)","as":"Y"}],
 "mark":{"type":"text","align":"center","baseline":"middle","fontSize":15,"color":"#111"},
 "encoding":{"text":{"field":"t"}}},
{"data":{"values":[{"t":"1 - Ge","X":1.888,"Y":1.5465},{"t":"2 - Si","X":1.888,"Y":1.36},{"t":"3 - C","X":1.888,"Y":1.173},{"t":"4, 4', 4a - InSb","X":1.888,"Y":0.9865},{"t":"5, 5' - GaSb","X":1.888,"Y":0.836}]},
 "mark":{"type":"text","align":"left","baseline":"middle","fontSize":15,"color":"#111"},
 "encoding":{"text":{"field":"t"}}},
{"data":{"values":[{"t":"(a)","X":-1.742,"Y":1.721}]},
 "mark":{"type":"text","align":"center","baseline":"middle","fontSize":20,"color":"#111"},
 "encoding":{"text":{"field":"t"}}}
]
},
{
"width":477,"height":433,
"encoding":{
"x":{"field":"X","type":"quantitative","scale":{"domain":[-3.7842,4.5842],"nice":false,"zero":false},"axis":null},
"y":{"field":"Y","type":"quantitative","scale":{"domain":[-3.4053,3.5598],"nice":false,"zero":false},"axis":null}
},
"layer":[
{"data":{"name":"ringsB"},
 "transform":[{"flatten":["a"]},{"calculate":"log(datum.v/0.2)/LN10","as":"p"},{"calculate":"datum.p*cos(datum.a*PI/180)","as":"X"},{"calculate":"datum.p*sin(datum.a*PI/180)","as":"Y"}],
 "mark":{"type":"line","interpolate":"cardinal-closed","strokeWidth":1},
 "encoding":{"detail":{"field":"v","type":"nominal"},"order":{"field":"a","type":"quantitative"},
  "stroke":{"field":"s","type":"nominal","scale":{"domain":["dot","out"],"range":["#7b7be0","#9a9a9a"]},"legend":null},
  "strokeDash":{"field":"s","type":"nominal","scale":{"domain":["dot","out"],"range":[[1,2],[1,0]]},"legend":null}}},
{"data":{"name":"spokesB"},
 "transform":[{"calculate":"log(datum.v/0.2)/LN10","as":"p"},{"calculate":"0","as":"X"},{"calculate":"0","as":"Y"},{"calculate":"datum.p*cos(datum.a*PI/180)","as":"X2"},{"calculate":"datum.p*sin(datum.a*PI/180)","as":"Y2"}],
 "mark":{"type":"rule","strokeWidth":1},
 "encoding":{"x2":{"field":"X2"},"y2":{"field":"Y2"},
  "stroke":{"field":"d","type":"nominal","scale":{"domain":["s","d"],"range":["#a3a3a3","#c9c9c9"]},"legend":null},
  "strokeDash":{"field":"d","type":"nominal","scale":{"domain":["s","d"],"range":[[1,0],[4,3]]},"legend":null}}},
{"data":{"name":"ticksB"},
 "transform":[{"calculate":"log(datum.v/0.2)/LN10","as":"p"},{"calculate":"datum.p*cos(datum.a*PI/180)","as":"X"},{"calculate":"datum.p*sin(datum.a*PI/180)","as":"Y"}],
 "mark":{"type":"point","shape":"stroke","stroke":"#555","strokeWidth":1,"opacity":1},
 "encoding":{"size":{"field":"k","type":"nominal","scale":{"domain":["M","m"],"range":[169,49]},"legend":null}}},
{"data":{"name":"radB"},
 "transform":[{"calculate":"log(datum.v/0.2)/LN10","as":"p"},{"calculate":"datum.p*cos(datum.a*PI/180)","as":"X"},{"calculate":"datum.p*sin(datum.a*PI/180)","as":"Y"}],
 "mark":{"type":"text","align":"right","baseline":"middle","dx":-10,"fontSize":12.5,"color":"#222"},
 "encoding":{"text":{"field":"t"}}},
{"data":{"name":"angB"},
 "transform":[{"calculate":"log(datum.v/0.2)/LN10","as":"p"},{"calculate":"datum.p*cos(datum.a*PI/180)","as":"X"},{"calculate":"datum.p*sin(datum.a*PI/180)","as":"Y"}],
 "mark":{"type":"text","align":"center","baseline":"middle","fontSize":13,"color":"#333"},
 "encoding":{"text":{"field":"t"}}},
{"data":{"name":"curvesB"},
 "transform":[{"filter":"datum.c=='6\\''"},{"calculate":"log(datum.v/0.2)/LN10","as":"p"},{"calculate":"datum.p*cos(datum.a*PI/180)","as":"X"},{"calculate":"datum.p*sin(datum.a*PI/180)","as":"Y"}],
 "mark":{"type":"line","interpolate":"catmull-rom","stroke":"#111","strokeWidth":2,"strokeDash":[5,3]},
 "encoding":{"detail":{"field":"c","type":"nominal"},"order":{"field":"a","type":"quantitative"}}},
{"data":{"name":"curvesB"},
 "transform":[{"filter":"datum.c=='6'||datum.c=='7'"},{"calculate":"log(datum.v/0.2)/LN10","as":"p"},{"calculate":"datum.p*cos(datum.a*PI/180)","as":"X"},{"calculate":"datum.p*sin(datum.a*PI/180)","as":"Y"}],
 "mark":{"type":"line","interpolate":"catmull-rom","stroke":"#111","strokeWidth":2},
 "encoding":{"detail":{"field":"c","type":"nominal"},"order":{"field":"a","type":"quantitative"}}},
{"data":{"values":[{"t":"6","a":50.6,"v":111},{"t":"7","a":50.4,"v":34},{"t":"6'","a":318.1,"v":1.08}]},
 "transform":[{"calculate":"log(datum.v/0.2)/LN10","as":"p"},{"calculate":"datum.p*cos(datum.a*PI/180)","as":"X"},{"calculate":"datum.p*sin(datum.a*PI/180)","as":"Y"}],
 "mark":{"type":"text","align":"center","baseline":"middle","fontSize":15,"color":"#111"},
 "encoding":{"text":{"field":"t"}}},
{"data":{"values":[{"t":"6, 6' - KCl","X":3.351,"Y":2.767},{"t":"7 - NaCl","X":3.351,"Y":2.4225}]},
 "mark":{"type":"text","align":"left","baseline":"middle","fontSize":15,"color":"#111"},
 "encoding":{"text":{"field":"t"}}},
{"data":{"values":[{"t":"(b)","X":-3.223,"Y":3.125}]},
 "mark":{"type":"text","align":"center","baseline":"middle","fontSize":20,"color":"#111"},
 "encoding":{"text":{"field":"t"}}}
]
}
]
}
